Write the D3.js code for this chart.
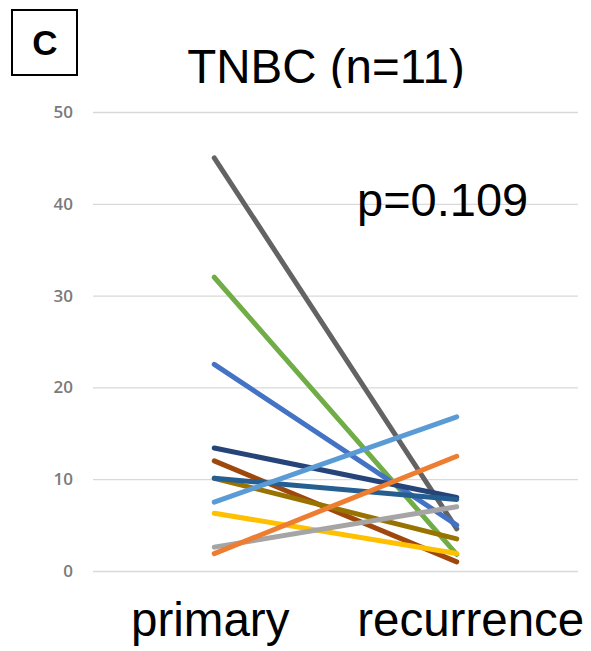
<!DOCTYPE html>
<html>
<head>
<meta charset="utf-8">
<script src="https://cdn.jsdelivr.net/npm/d3@7"></script>
<style>
  body { margin: 0; background: #fff; }
  svg { display: block; }
</style>
</head>
<body>
<svg width="591" height="651"></svg>
<script>
var categories = ["primary", "recurrence"];
var yTicks = [0, 10, 20, 30, 40, 50];

// one row per patient: [primary, recurrence]
var primaryVals    = [45.0, 32.0, 22.5, 13.4, 12.0, 10.1, 10.1, 7.5, 6.3, 2.6, 1.9];
var recurrenceVals = [ 4.6,  1.8,  5.0,  8.0,  1.0,  3.5,  7.8, 16.8, 1.9, 7.0, 12.5];
var lineColors = ["#636363", "#70ad47", "#4472c4", "#264478", "#9e480e", "#997300",
                  "#255e91", "#5b9bd5", "#ffc000", "#a5a5a5", "#ed7d31"];

var svg = d3.select("svg"),
    width = +svg.attr("width"),
    height = +svg.attr("height");

var margin = {left: 93, right: 13, top: 112, bottom: 80};

var x = d3.scalePoint()
    .domain(categories)
    .range([margin.left, width - margin.right])
    .padding(0.5);

var y = d3.scaleLinear()
    .domain([0, 50])
    .range([571, 112]);

// panel letter
svg.append("rect")
    .attr("x", 12).attr("y", 10)
    .attr("width", 65).attr("height", 65)
    .attr("fill", "none")
    .attr("stroke", "#000")
    .attr("stroke-width", 2);
svg.append("text")
    .attr("x", 45).attr("y", 55)
    .attr("text-anchor", "middle")
    .attr("font-family", "Liberation Sans, Arial, sans-serif")
    .attr("font-weight", "bold")
    .attr("font-size", 35)
    .text("C");

// grid + y labels
var gy = svg.append("g")
    .attr("transform", "translate(" + margin.left + ",0)")
    .call(d3.axisLeft(y)
          .tickValues(yTicks)
          .tickSize(-(width - margin.right - margin.left))
          .tickPadding(20));
gy.select(".domain").remove();
gy.selectAll(".tick line").attr("stroke", "#d9d9d9").attr("stroke-width", 1.3);
gy.selectAll(".tick text")
    .attr("fill", "#7a7a7a")
    .attr("font-family", "Open Sans, sans-serif")
    .attr("font-weight", 600)
    .attr("font-size", 17);

// title, clipped at the plot top like the original
svg.append("clipPath").attr("id", "tclip")
  .append("rect").attr("x", 0).attr("y", 0).attr("width", width).attr("height", 88);
svg.append("text")
    .attr("clip-path", "url(#tclip)")
    .attr("x", 326).attr("y", 83)
    .attr("text-anchor", "middle")
    .attr("font-family", "Liberation Sans, Arial, sans-serif")
    .attr("font-size", 47.5)
    .text("TNBC (n=11)");

// lines
var rows = primaryVals.map(function(d, i) { return [d, recurrenceVals[i]]; });
var line = d3.line()
    .x(function(d, i) { return x(categories[i]); })
    .y(function(d) { return y(d); });

svg.append("g")
    .selectAll("path")
    .data(rows)
    .enter().append("path")
    .attr("d", line)
    .attr("fill", "none")
    .attr("stroke", function(d, i) { return lineColors[i]; })
    .attr("stroke-width", 5)
    .attr("stroke-linecap", "round");

// p value
svg.append("text")
    .attr("x", 357).attr("y", 216)
    .attr("font-family", "Liberation Sans, Arial, sans-serif")
    .attr("font-size", 47)
    .text("p=0.109");

// category labels
var labelShift = [-4, 14];
svg.append("g")
    .selectAll("text")
    .data(categories)
    .enter().append("text")
    .attr("x", function(d, i) { return x(d) + labelShift[i]; })
    .attr("y", 636)
    .attr("text-anchor", "middle")
    .attr("font-family", "Liberation Sans, Arial, sans-serif")
    .attr("font-size", 47.5)
    .text(function(d) { return d; });
</script>
</body>
</html>
